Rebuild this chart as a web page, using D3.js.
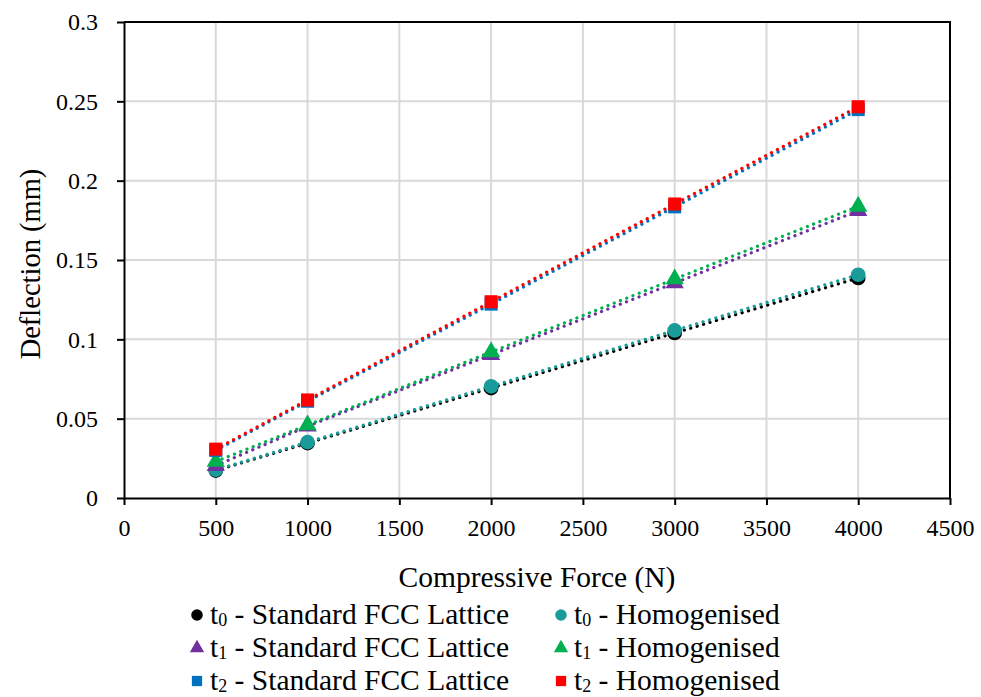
<!DOCTYPE html>
<html>
<head>
<meta charset="utf-8">
<script src="https://cdn.jsdelivr.net/npm/d3@7"></script>
</head>
<body style="margin:0">
<svg id="fig" width="981" height="697"></svg>
<script>
const WIDTH = 981;
const HEIGHT = 697;

// Data
const forces = [500, 1000, 2000, 3000, 4000];
const t0Standard = [0.0173, 0.0346, 0.0693, 0.1040, 0.1387];
const t0Homog    = [0.0177, 0.0352, 0.0704, 0.1056, 0.1407];
const t1Standard = [0.0204, 0.0452, 0.0903, 0.1355, 0.1810];
const t1Homog    = [0.0230, 0.0460, 0.0920, 0.1380, 0.1838];
const t2Standard = [0.0300, 0.0610, 0.1222, 0.1835, 0.2448];
const t2Homog    = [0.0308, 0.0618, 0.1237, 0.1853, 0.2466];

const xTicks = [0, 500, 1000, 1500, 2000, 2500, 3000, 3500, 4000, 4500];
const yTicks = [0, 0.05, 0.1, 0.15, 0.2, 0.25, 0.3];

const series = [
    { sub: '0', name: 'Standard FCC Lattice', values: t0Standard, color: '#000000', shape: 'circle' },
    { sub: '0', name: 'Homogenised', values: t0Homog, color: '#199c99', shape: 'circle' },
    { sub: '1', name: 'Standard FCC Lattice', values: t1Standard, color: '#7030a0', shape: 'triangle' },
    { sub: '1', name: 'Homogenised', values: t1Homog, color: '#00b050', shape: 'triangle' },
    { sub: '2', name: 'Standard FCC Lattice', values: t2Standard, color: '#0070c0', shape: 'square' },
    { sub: '2', name: 'Homogenised', values: t2Homog, color: '#ff0000', shape: 'square' },
];

const FONT = '"Liberation Serif"';

const margin = { left: 124, right: 31, top: 22, bottom: 199 };
const plotW = WIDTH - margin.left - margin.right;
const plotH = HEIGHT - margin.top - margin.bottom;

function symbolFor(shape, size) {
    if (shape === 'circle') return d3.symbol(d3.symbolCircle, size)();
    if (shape === 'triangle') return d3.symbol(d3.symbolTriangle, size * 0.85)();
    return d3.symbol(d3.symbolSquare, size)();
}

let svg = d3.select('#fig');

let xScale = d3.scaleLinear().domain([0, 4500]).range([0, plotW]);
let yScale = d3.scaleLinear().domain([0, 0.3]).range([plotH, 0]);

let chart = svg.append('g')
    .attr('transform', `translate(${margin.left}, ${margin.top})`);

// gridlines
chart.append('g')
    .selectAll('line')
    .data(xTicks.slice(1, -1))
    .enter().append('line')
        .attr('x1', d => xScale(d)).attr('x2', d => xScale(d))
        .attr('y1', 0).attr('y2', plotH)
        .attr('stroke', '#d9d9d9').attr('stroke-width', 2);
chart.append('g')
    .selectAll('line')
    .data(yTicks.slice(1, -1))
    .enter().append('line')
        .attr('x1', 0).attr('x2', plotW)
        .attr('y1', d => yScale(d)).attr('y2', d => yScale(d))
        .attr('stroke', '#d9d9d9').attr('stroke-width', 2);

// axes
let xAxis = chart.append('g')
    .attr('transform', `translate(0, ${plotH})`)
    .call(d3.axisBottom(xScale).tickValues(xTicks).tickSize(7).tickSizeOuter(0).tickPadding(14).tickFormat(d3.format('d')));
let yAxis = chart.append('g')
    .call(d3.axisLeft(yScale).tickValues(yTicks).tickSize(7).tickSizeOuter(0).tickPadding(19).tickFormat(d => String(+d.toFixed(2))));
[xAxis, yAxis].forEach(a => {
    a.attr('font-family', 'Liberation Serif').attr('font-size', 24);
    a.selectAll('path, line').attr('stroke', '#000').attr('stroke-width', 2);
    a.selectAll('text')
        .style('font-family', FONT)
        .style('font-size', '24px')
        .attr('fill', '#000');
});
yAxis.selectAll('text').attr('dy', '0.32em');

// top & right frame
chart.append('path')
    .attr('d', `M0,0H${plotW}V${plotH}`)
    .attr('fill', 'none').attr('stroke', '#000').attr('stroke-width', 2);

// axis titles
svg.append('text')
    .attr('x', margin.left + plotW / 2).attr('y', 587)
    .attr('text-anchor', 'middle')
    .style('font-family', FONT)
    .style('font-size', '29.5px')
    .text('Compressive Force (N)');
svg.append('text')
    .attr('transform', `translate(40, 264) rotate(-90)`)
    .attr('text-anchor', 'middle')
    .style('font-family', FONT)
    .style('font-size', '28.5px')
    .text('Deflection (mm)');

// dotted lines
let line = d3.line()
    .x((d, i) => xScale(forces[i]))
    .y(d => yScale(d));
series.forEach(s => {
    chart.append('path')
        .datum(s.values)
        .attr('d', line)
        .attr('fill', 'none')
        .attr('stroke', s.color)
        .attr('stroke-width', 3.2)
        .attr('stroke-linecap', 'round')
        .attr('stroke-dasharray', '0.1 6.6');
});

// markers
series.forEach(s => {
    chart.append('g')
        .selectAll('path')
        .data(s.values)
        .enter().append('path')
            .attr('d', symbolFor(s.shape, 170))
            .attr('transform', (d, i) => `translate(${xScale(forces[i])}, ${yScale(d)})`)
            .attr('fill', s.color);
});

// legend
let legend = svg.append('g');
series.forEach((s, i) => {
    let col = i % 2, row = Math.floor(i / 2);
    let lx = col === 0 ? 197 : 561;
    let ly = 615 + row * 33;
    legend.append('path')
        .attr('d', symbolFor(s.shape, 105))
        .attr('transform', `translate(${lx}, ${ly})`)
        .attr('fill', s.color);
    let t = legend.append('text')
        .attr('x', lx + 13).attr('y', ly + 9)
        .style('font-family', FONT)
        .style('font-size', '29.5px');
    t.append('tspan').text('t');
    t.append('tspan').attr('dy', 2).style('font-size', '18px').text(s.sub);
    t.append('tspan').attr('dy', -2).text(' - ' + s.name);
});
</script>
</body>
</html>
